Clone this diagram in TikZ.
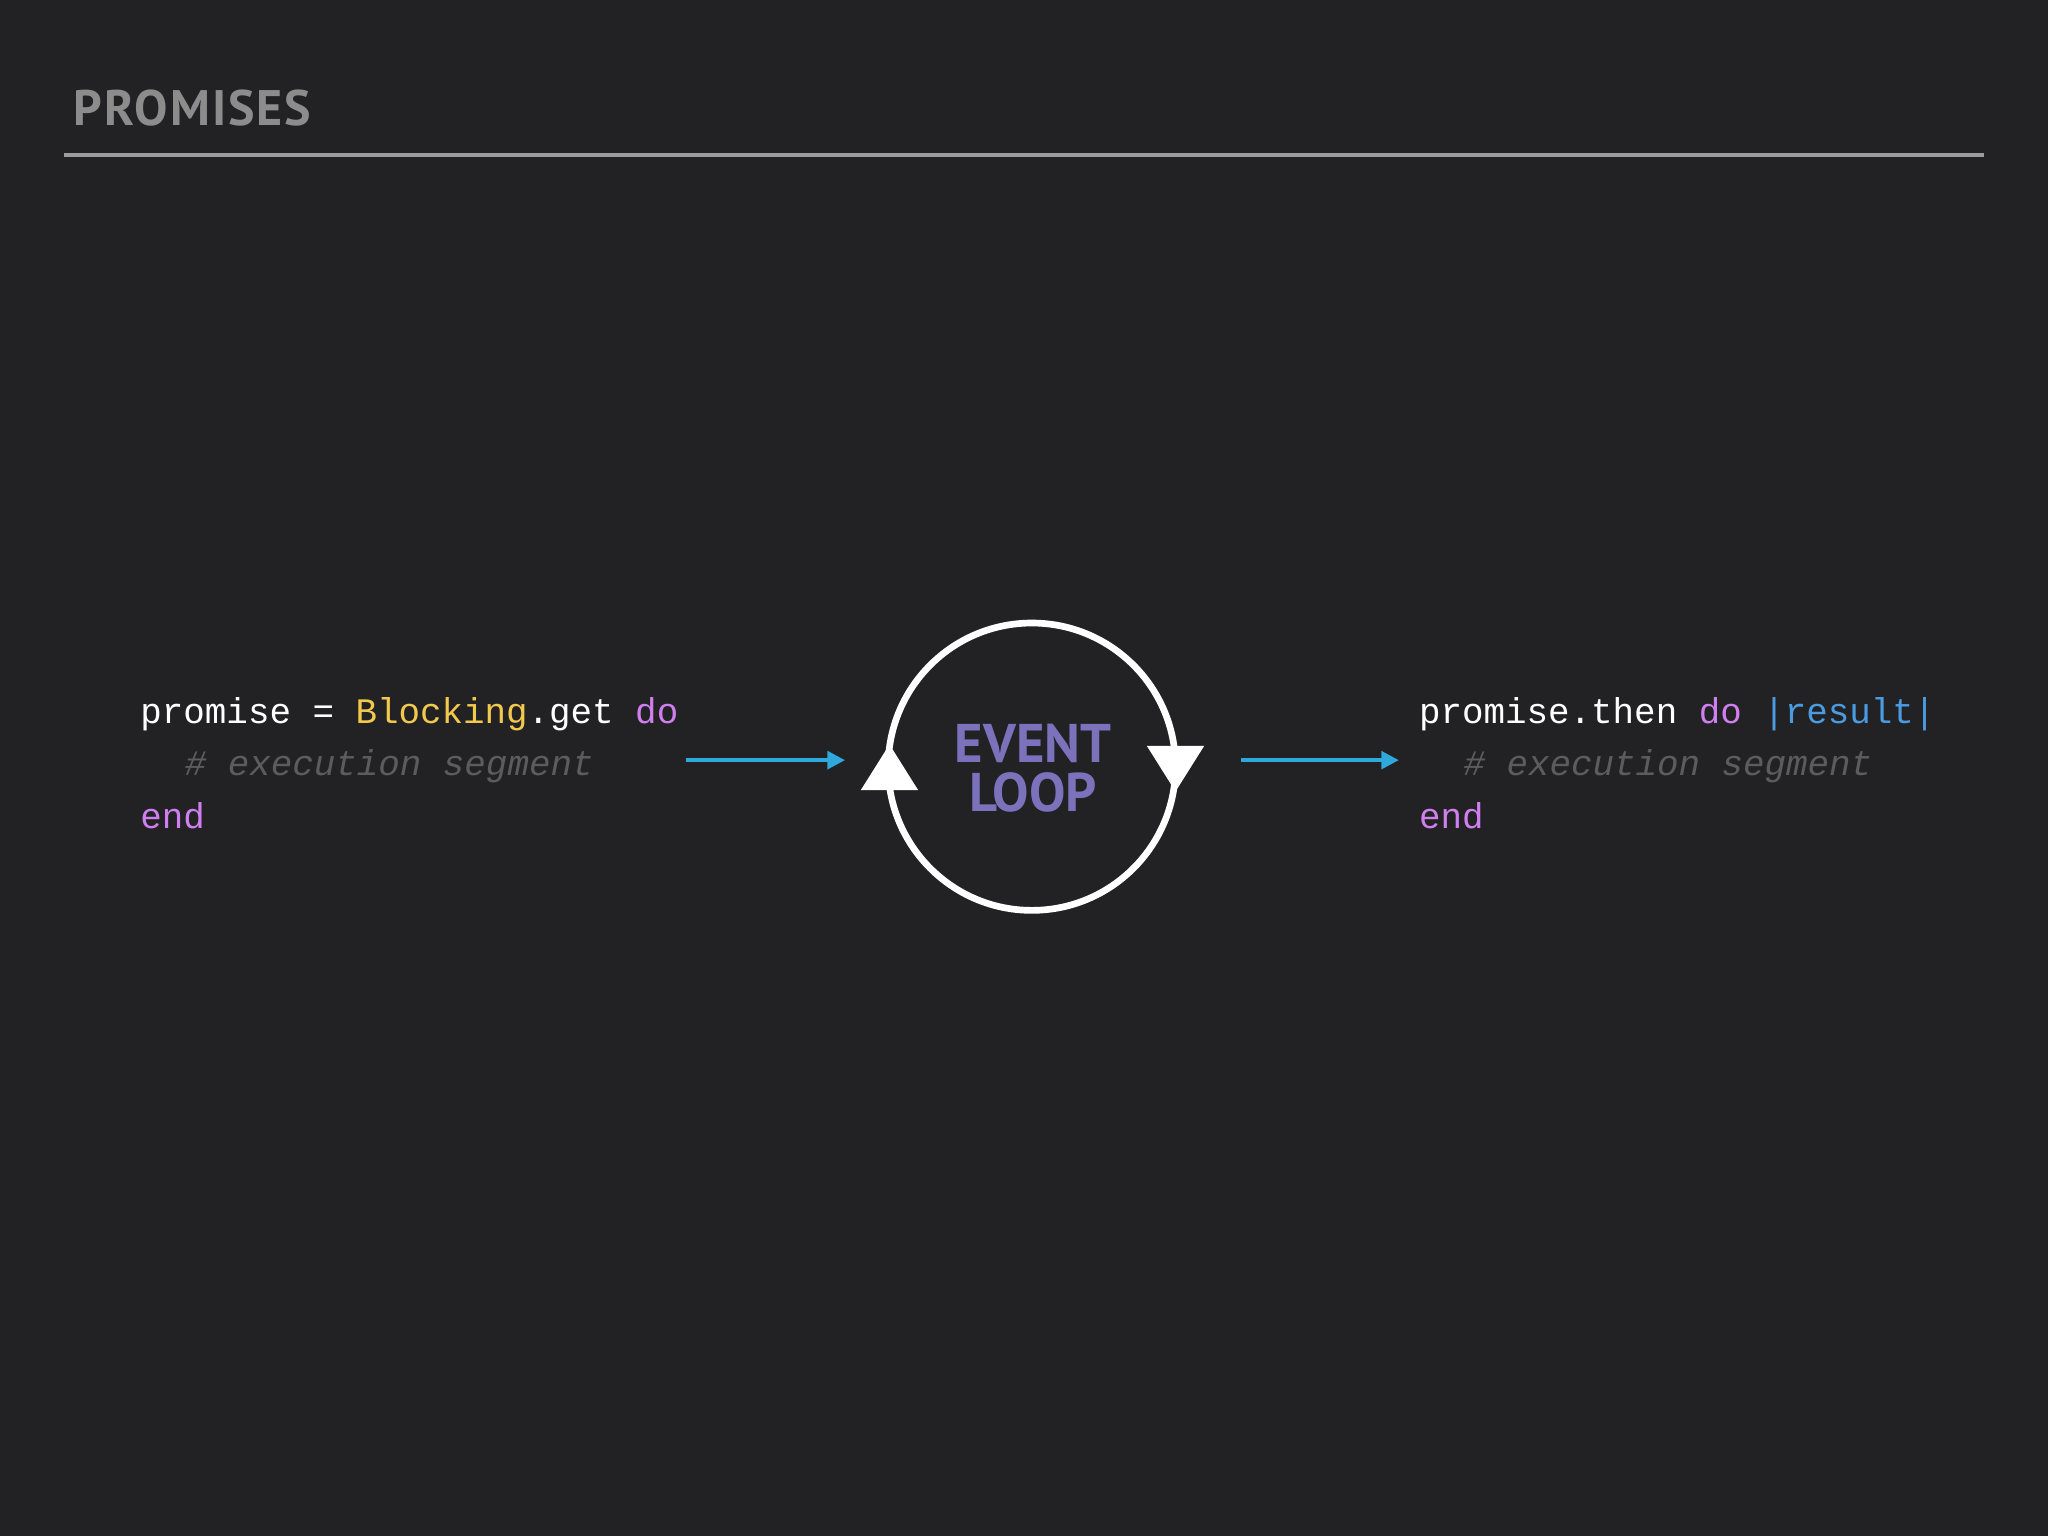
\documentclass[tikz,border=0pt]{standalone}
\usepackage{fontspec}
\setmainfont{PT Sans}
\setmonofont{Liberation Mono}
\newfontfamily\ttlfont[LetterSpace=4]{PT Sans}
\usetikzlibrary{arrows.meta}
\definecolor{bg}{HTML}{222224}
\definecolor{ttl}{HTML}{8C8C8C}
\definecolor{rule}{HTML}{9C9C9C}
\definecolor{kyel}{HTML}{F2C94C}
\definecolor{kpur}{HTML}{CF7FEF}
\definecolor{kcom}{HTML}{5C5C5C}
\definecolor{kblu}{HTML}{4A9BE0}
\definecolor{arr}{HTML}{2FA8DB}
\definecolor{evt}{HTML}{7B72BB}
\tikzset{
  code/.style={anchor=base west,inner sep=0pt,text=white,font=\fontsize{10.2}{12}\ttfamily},
  flow/.style={draw=arr,line width=1.1pt,-{Triangle[length=5pt,width=5pt]}},
  evtxt/.style={anchor=base,inner sep=0pt,text=evt,font=\fontsize{15.5}{13.5}\selectfont\bfseries},
}
\begin{document}
\begin{tikzpicture}[x=0.01306cm,y=-0.01306cm]
\fill[bg] (0,0) rectangle (1568,1176);
\useasboundingbox (0,0) rectangle (1568,1176);
\node[anchor=base west,inner sep=0pt,text=ttl,font=\fontsize{14.2}{16}\ttlfont\bfseries] (title) at (56,96) {PROMISES};
\coordinate (r1) at (49,119); \coordinate (r2) at (1519,119);
\draw[rule,line width=1.1pt] (r1) -- (r2);
% left code
\node[code] (l1) at (107,554) {promise = \textcolor{kyel}{Blocking}.get \textcolor{kpur}{do}};
\node[code,text=kcom] (l2) at (141,594) {\itshape \# execution segment};
\node[code,text=kpur] (l3) at (107,634) {end};
% right code
\node[code] (r1c) at (1086,554) {promise.then \textcolor{kpur}{do} \textcolor{kblu}{|result|}};
\node[code,text=kcom] (r2c) at (1120,594) {\itshape \# execution segment};
\node[code,text=kpur] (r3c) at (1086,634) {end};
% loop
\node[circle,draw=white,line width=1.9pt,minimum size=220*0.01306cm,inner sep=0pt] (loop) at (790,587) {};
\node[evtxt] (ev1) at (791,584) {EVENT};
\node[evtxt] (ev2) at (791,621) {LOOP};
\fill[white] (659,605) -- (703,605) -- (681,570) -- cycle;
\fill[white] (878,571) -- (922,571) -- (900,606) -- cycle;
% arrows
\coordinate (a1s) at (525,582); \coordinate (a1e) at (647,582);
\coordinate (a2s) at (950,582); \coordinate (a2e) at (1071,582);
\draw[flow] (a1s) -- (a1e);
\draw[flow] (a2s) -- (a2e);
\end{tikzpicture}
\end{document}
